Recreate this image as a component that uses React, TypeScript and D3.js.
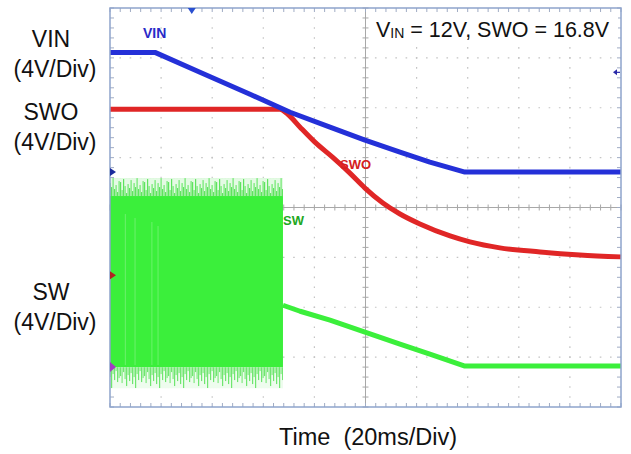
import React from "react";
import * as d3 from "d3";

// time in ms (20 ms/div, 10 divs), vertical position in screen divisions (0 bottom .. 8 top)
const VIN_T = [0, 17.6, 35.2, 54.8, 70.5, 86.1, 99.8, 113.5, 125.2, 138.9, 200];
const VIN_D = [7.11, 7.11, 6.71, 6.27, 5.91, 5.61, 5.35, 5.11, 4.91, 4.71, 4.71];

const SWO_T = [0, 66.5, 69.6, 74.4, 80.2, 87.3, 93.9, 99.8, 106.8, 113.5, 121.3, 133.1, 140.9, 152.6, 168.3, 183.9, 200];
const SWO_D = [5.97, 5.97, 5.87, 5.61, 5.31, 5.0, 4.69, 4.39, 4.09, 3.87, 3.67, 3.43, 3.31, 3.19, 3.11, 3.05, 3.01];

const SW_T = [67.7, 74.4, 86.1, 99.8, 113.5, 125.2, 138.9, 200];
const SW_D = [2.04, 1.92, 1.74, 1.5, 1.26, 1.06, 0.82, 0.82];

// switching burst envelope
const BURST_T = [0, 67.7];
const BURST_CORE = [0.8, 4.23];
const BURST_SPIKE = [0.38, 4.59];
const BURST_GAPS_T = [6, 9.8, 16.4, 18.8];

const X_DIVS = 10;
const Y_DIVS = 8;
const MS_PER_DIV = 20;

// channel ground markers (divisions) and trigger
const GND_VIN = 4.71;
const GND_SWO = 2.64;
const GND_SW = 0.8;
const TRIG_T = 32;
const TRIG_LEVEL = 6.71;

const LEFT_LABELS = [
  { name: "VIN", scale: "(4V/Div)", y: 47 },
  { name: "SWO", scale: "(4V/Div)", y: 120 },
  { name: "SW", scale: "(4V/Div)", y: 300 },
];

const BLUE = "#2430d8";
const RED = "#e02626";
const GREEN = "#3bef3b";
const FONT = "Arial, 'Liberation Sans', Helvetica, sans-serif";

// noise texture tiles (style only): spike heights within a pattern tile
const TOP_SPIKES = [14, 6, 17, 10, 3, 12, 8, 16, 5, 13, 9, 18, 7, 11, 4, 15];
const BOT_SPIKES = [9, 16, 5, 12, 19, 8, 14, 6, 17, 10, 21, 7, 13, 4, 15, 11];

export default function App() {
  const x = d3.scaleLinear().domain([0, X_DIVS * MS_PER_DIV]).range([110, 621]);
  const y = d3.scaleLinear().domain([0, Y_DIVS]).range([407, 8]);
  const lineLin = d3.line<[number, number]>().x((d) => x(d[0])).y((d) => y(d[1]));
  const lineSmooth = d3
    .line<[number, number]>()
    .x((d) => x(d[0]))
    .y((d) => y(d[1]))
    .curve(d3.curveMonotoneX);

  const zip = (a: number[], b: number[]) => a.map((v, i) => [v, b[i]] as [number, number]);

  const x0 = x(0), x1 = x(200), yT = y(8), yB = y(0);
  const xc = x(100), yc = y(4);
  const minorX = d3.range(0, X_DIVS * 5 + 1).map((i) => x((i * MS_PER_DIV) / 5));
  const minorY = d3.range(0, Y_DIVS * 5 + 1).map((i) => y(i / 5));
  const dx = (x1 - x0) / X_DIVS / 5;
  const dy = (yB - yT) / Y_DIVS / 5;

  const bx0 = x(BURST_T[0]), bx1 = x(BURST_T[1]);
  const coreTop = y(BURST_CORE[1]), coreBot = y(BURST_CORE[0]);
  const spikeTop = y(BURST_SPIKE[1]), spikeBot = y(BURST_SPIKE[0]);
  const hTop = coreTop - spikeTop;
  const hBot = spikeBot - coreBot;
  const tile = 1.5;

  return (
    <svg width={631} height={454} style={{ position: "absolute", left: 0, top: 0, background: "#fff" }} fontFamily={FONT}>
      <defs>
        <pattern id="spTop" patternUnits="userSpaceOnUse" x={0} y={spikeTop} width={TOP_SPIKES.length * tile} height={hTop}>
          <rect width={TOP_SPIKES.length * tile} height={hTop} fill="#e4fae4" />
          {TOP_SPIKES.map((h, i) => (
            <rect key={i} x={i * tile} y={hTop - (h / 18) * hTop} width={tile * 0.8} height={(h / 18) * hTop}
              fill={i % 2 ? "#6fe86f" : "#5ee35e"} />
          ))}
        </pattern>
        <pattern id="spBot" patternUnits="userSpaceOnUse" x={0} y={coreBot} width={BOT_SPIKES.length * tile} height={hBot}>
          <rect width={BOT_SPIKES.length * tile} height={hBot} fill="#eefcee" />
          {BOT_SPIKES.map((h, i) => (
            <rect key={i} x={i * tile} y={0} width={tile * 0.8} height={(h / 21) * hBot}
              fill={i % 2 ? "#80ea80" : "#70e670"} />
          ))}
        </pattern>
      </defs>

      {/* dotted grid */}
      {d3.range(1, X_DIVS).filter((i) => i !== 5).map((i) => (
        <line key={"gx" + i} x1={x(i * MS_PER_DIV)} x2={x(i * MS_PER_DIV)} y1={yT} y2={yB}
          stroke="#c4c4c4" strokeWidth={1.2} strokeDasharray={`1.6 ${dy - 1.6}`} strokeDashoffset={0.8} />
      ))}
      {d3.range(1, Y_DIVS).filter((j) => j !== 4).map((j) => (
        <line key={"gy" + j} x1={x0} x2={x1} y1={y(j)} y2={y(j)}
          stroke="#c4c4c4" strokeWidth={1.2} strokeDasharray={`1.6 ${dx - 1.6}`} strokeDashoffset={0.8} />
      ))}

      {/* center axes */}
      <line x1={xc} x2={xc} y1={yT} y2={yB} stroke="#a8a8a8" strokeWidth={1} />
      <line x1={x0} x2={x1} y1={yc} y2={yc} stroke="#a8a8a8" strokeWidth={1} />
      {minorX.map((px, i) => (
        <line key={"cx" + i} x1={px} x2={px} y1={yc - 3} y2={yc + 3} stroke="#a8a8a8" strokeWidth={1} />
      ))}
      {minorY.map((py, i) => (
        <line key={"cy" + i} x1={xc - 3} x2={xc + 3} y1={py} y2={py} stroke="#a8a8a8" strokeWidth={1} />
      ))}

      {/* border ticks */}
      {minorX.map((px, i) => (
        <g key={"bx" + i}>
          <line x1={px} x2={px} y1={yT} y2={yT + 4} stroke="#a0acc4" strokeWidth={1} />
          <line x1={px} x2={px} y1={yB} y2={yB - 4} stroke="#a0acc4" strokeWidth={1} />
        </g>
      ))}
      {minorY.map((py, i) => (
        <g key={"by" + i}>
          <line x1={x0} x2={x0 + 4} y1={py} y2={py} stroke="#a0acc4" strokeWidth={1} />
          <line x1={x1} x2={x1 - 4} y1={py} y2={py} stroke="#a0acc4" strokeWidth={1} />
        </g>
      ))}

      {/* switching burst */}
      <rect x={bx0} y={spikeTop} width={bx1 - bx0} height={hTop} fill="url(#spTop)" />
      <rect x={bx0} y={coreBot} width={bx1 - bx0} height={hBot} fill="url(#spBot)" />
      <rect x={bx0} y={coreTop} width={bx1 - bx0} height={coreBot - coreTop} fill={GREEN} />
      {BURST_GAPS_T.map((t, i) => (
        <line key={"gap" + i} x1={x(t)} x2={x(t)} y1={coreTop + 18 + i * 4} y2={coreBot - 2}
          stroke="#c8f8c8" strokeWidth={1} opacity={0.35} />
      ))}

      {/* traces */}
      <path d={lineLin(zip(SW_T, SW_D)) || ""} fill="none" stroke={GREEN} strokeWidth={5} strokeLinejoin="round" />
      <path d={lineSmooth(zip(SWO_T, SWO_D)) || ""} fill="none" stroke={RED} strokeWidth={5} strokeLinejoin="round" />
      <path d={lineLin(zip(VIN_T, VIN_D)) || ""} fill="none" stroke={BLUE} strokeWidth={5} strokeLinejoin="round" />

      {/* frame */}
      <rect x={x0} y={yT} width={x1 - x0} height={yB - yT} fill="none" stroke="#8ea4cc" strokeWidth={1.5} />

      {/* markers */}
      <path d={`M${x(TRIG_T) - 4},${yT} L${x(TRIG_T) + 4},${yT} L${x(TRIG_T)},${yT + 6} Z`} fill="#2a4fd0" />
      <path d={`M${x0},${y(GND_VIN) - 4} L${x0 + 6},${y(GND_VIN)} L${x0},${y(GND_VIN) + 4} Z`} fill="#1a2a9c" />
      <path d={`M${x0},${y(GND_SWO) - 4} L${x0 + 6},${y(GND_SWO)} L${x0},${y(GND_SWO) + 4} Z`} fill="#b02222" />
      <path d={`M${x0},${y(GND_SW) - 5} L${x0 + 6},${y(GND_SW)} L${x0},${y(GND_SW) + 5} Z`} fill="#a43cc4" />
      <path d={`M${x1 - 8},${y(TRIG_LEVEL)} L${x1 - 4},${y(TRIG_LEVEL) - 3} L${x1 - 4},${y(TRIG_LEVEL) + 3} Z`} fill="#2a2aa8" />
      <line x1={x1 - 5} x2={x1 - 1} y1={y(TRIG_LEVEL)} y2={y(TRIG_LEVEL)} stroke="#2a2aa8" strokeWidth={1.2} />

      {/* trace labels */}
      <text x={143} y={38} fontSize={14} fontWeight="bold" fill="#2a2ac8">VIN</text>
      <text x={340} y={169} fontSize={13} fontWeight="bold" fill="#d42020">SWO</text>
      <text x={283} y={225} fontSize={13} fontWeight="bold" fill="#22a822">SW</text>

      {/* condition text */}
      <rect x={372} y={16} width={246} height={28} fill="#fff" />
      <text x={376} y={37} fontSize={21.5} fill="#111">
        V<tspan fontSize={14} dy={1}>IN</tspan><tspan dy={-1}>{" = 12V, SWO = 16.8V"}</tspan>
      </text>

      {/* left labels */}
      {LEFT_LABELS.map((l) => (
        <g key={l.name} fontSize={23} fill="#111" textAnchor="middle">
          <text x={51} y={l.y}>{l.name}</text>
          <text x={55} y={l.y + 30}>{l.scale}</text>
        </g>
      ))}

      <text x={368} y={445} fontSize={23.5} textAnchor="middle" fill="#111" style={{ whiteSpace: "pre" }}>
        {"Time  (20ms/Div)"}
      </text>
    </svg>
  );
}
